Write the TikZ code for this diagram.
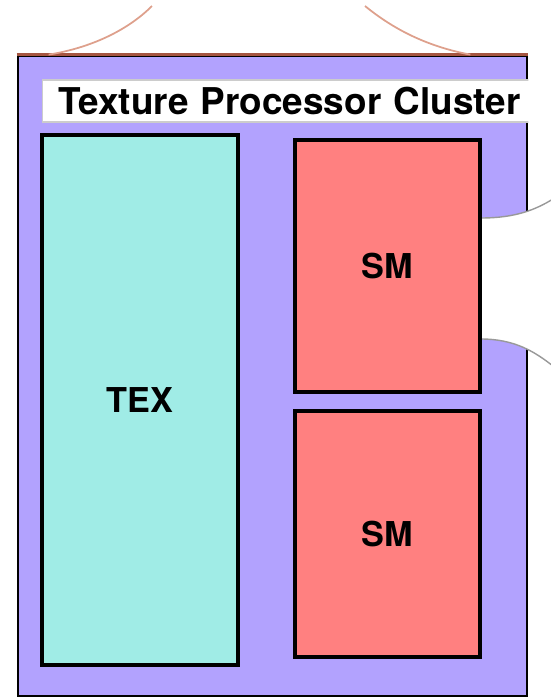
\documentclass[tikz,border=0pt]{standalone}
\usepackage{fontspec}
\setmainfont{TeX Gyre Heros}
\usetikzlibrary{positioning, calc}

\definecolor{tpcpurple}{RGB}{178,162,254}
\definecolor{texcyan}{RGB}{160,236,230}
\definecolor{smred}{RGB}{255,128,128}
\definecolor{zoomline}{RGB}{222,160,140}
\definecolor{tpcedge}{RGB}{165,85,65}

\begin{document}
\begin{tikzpicture}[x=0.02cm, y=-0.02cm, thick]
        % Define block styles
        \tikzstyle{unit} = [rectangle, draw, line width=2pt, inner sep=0pt, font=\bfseries\fontsize{19.5}{22}\selectfont]
        \tikzstyle{banner} = [rectangle, draw=gray!40, fill=white, line width=0.6pt, anchor=west, minimum height=0.84cm, minimum width=10cm, inner xsep=0.32cm, text width=9.36cm, align=left, font=\bfseries\fontsize{21}{24}\selectfont]

        \useasboundingbox (0,0) rectangle (551,697);

        % Place nodes
        \node [unit, line width=1.6pt, fill=tpcpurple, minimum width=10.18cm, minimum height=12.8cm] (cluster) at (272.5,376) {};
        \begin{scope}
            \clip (cluster.north west) rectangle (cluster.south east);
            \node [banner] (title) at (42,101) {Texture Processor Cluster};
        \end{scope}
        \node [unit, fill=texcyan, minimum width=3.92cm, minimum height=10.6cm] (tex) at (140,400) {TEX};

        % Zoom callouts
        \coordinate (zl) at (152,6);
        \coordinate (zr) at (365,6);
        \coordinate (ct) at (481,218);
        \coordinate (cb) at (481,339);
        \coordinate (rt) at (553,199);
        \coordinate (rb) at (553,366);
        \draw [tpcedge, line width=1.6pt] (cluster.north west) -- (cluster.north east);
        \draw [zoomline, line width=1pt] ($(cluster.north west)+(32,0)$) .. controls (95,47) and (130,28) .. (zl);
        \draw [zoomline, line width=1pt] ($(cluster.north east)+(-58,0)$) .. controls (425,46) and (392,28) .. (zr);
        \fill [white] (ct) .. controls (515,218) and (535,210) .. (rt) -- (rb) .. controls (535,352) and (515,339) .. (cb) -- cycle;
        \draw [gray!80, line width=0.8pt] (ct) .. controls (515,218) and (535,210) .. (rt);
        \draw [gray!80, line width=0.8pt] (cb) .. controls (515,339) and (535,352) .. (rb);

        \node [unit, fill=smred, minimum width=3.7cm, minimum height=5.04cm] (sm1) at (387.5,266) {SM};
        \node [unit, fill=smred, minimum width=3.7cm, minimum height=4.92cm] (sm2) at (387.5,534) {SM};

    \end{tikzpicture}
\end{document}
